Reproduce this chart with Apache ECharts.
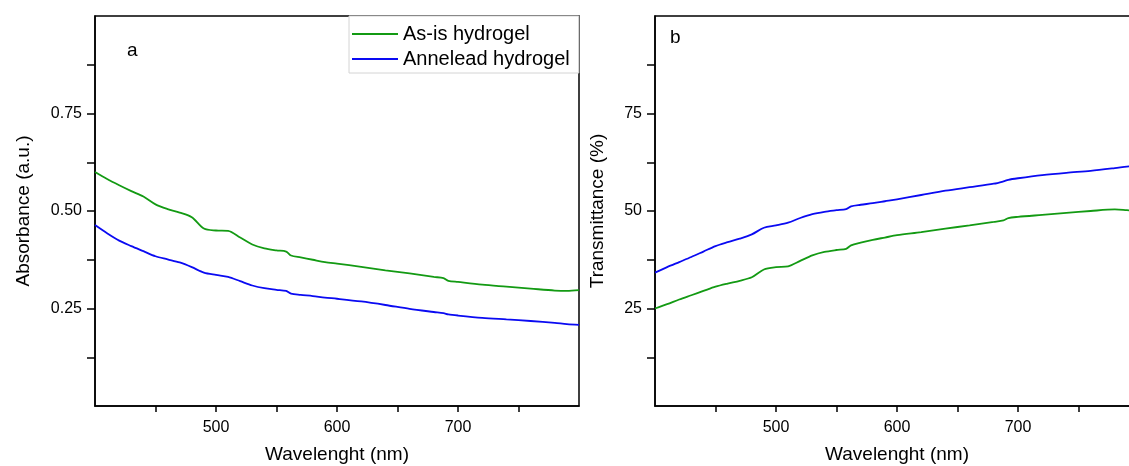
<!DOCTYPE html>
<html>
<head>
<meta charset="utf-8">
<script src="https://cdn.jsdelivr.net/npm/echarts@6/dist/echarts.min.js"></script>
<style>
  html, body { margin: 0; padding: 0; background: #fff; }
  #chart { width: 1129px; height: 466px; }
</style>
</head>
<body>
<div id="chart"></div>
<script>
    // wavelength (nm)
    var wavelength = [400,410,420,430,440,450,460,470,480,490,500,510,520,530,540,550,558,562,570,580,590,600,620,640,660,680,688,692,700,720,740,760,780,790,800];

    // (a) absorbance
    var absAsIs = [0.600,0.582,0.566,0.551,0.537,0.517,0.505,0.496,0.484,0.455,0.450,0.449,0.432,0.414,0.404,0.399,0.396,0.386,0.381,0.375,0.369,0.365,0.357,0.348,0.340,0.331,0.328,0.321,0.318,0.311,0.306,0.301,0.296,0.295,0.297];
    var absAnnealed = [0.464,0.443,0.424,0.410,0.397,0.384,0.376,0.368,0.356,0.342,0.336,0.331,0.320,0.309,0.302,0.298,0.295,0.288,0.285,0.282,0.278,0.275,0.268,0.259,0.249,0.241,0.238,0.235,0.232,0.226,0.222,0.218,0.213,0.210,0.208];

    // (b) transmittance
    var transAsIs = [25.0,26.1,27.3,28.4,29.5,30.6,31.4,32.1,33.0,35.0,35.6,35.8,37.2,38.6,39.5,40.0,40.3,41.2,41.9,42.6,43.2,43.8,44.6,45.5,46.3,47.2,47.6,48.2,48.5,49.0,49.5,50.0,50.4,50.2,50.0];
    var transAnnealed = [34.2,35.6,36.9,38.2,39.6,41.0,42.0,42.9,44.0,45.7,46.3,47.0,48.2,49.2,49.8,50.2,50.5,51.2,51.6,52.0,52.5,53.0,54.1,55.2,56.1,57.0,57.6,58.0,58.4,59.2,59.8,60.3,61.0,61.4,61.7];

    var xTicks = [450,500,550,600,650,700,750];
    var xLabels = [500,600,700];
    var absTicks = [0.125,0.25,0.375,0.5,0.625,0.75,0.875];
    var absLabels = [0.25,0.5,0.75];
    var transTicks = [12.5,25,37.5,50,62.5,75,87.5];
    var transLabels = [25,50,75];

    var FONT = 'Liberation Sans, Arial, sans-serif';
    var GREEN = '#139a13';
    var BLUE = '#0a0af2';

    function pairs(xs, ys) {
        var out = [];
        for (var i = 0; i < xs.length; i++) out.push([xs[i], ys[i]]);
        return out;
    }

    function xAxisFor(idx) {
        return {
            gridIndex: idx, type: 'value', min: 400, max: 800,
            name: 'Wavelenght (nm)', nameLocation: 'middle', nameGap: 39,
            nameTextStyle: { fontSize: 19, color: '#000', fontFamily: FONT },
            axisLine: { show: true, onZero: false, lineStyle: { color: '#000', width: 1.5 } },
            axisTick: { show: true, inside: false, length: 6, customValues: xTicks, lineStyle: { color: '#000', width: 1.5 } },
            axisLabel: { customValues: xLabels, margin: 14, fontSize: 16, color: '#000', fontFamily: FONT },
            splitLine: { show: false }
        };
    }

    function yAxisFor(idx, max, ticks, labels, name, gap, fmt) {
        return {
            gridIndex: idx, type: 'value', min: 0, max: max,
            name: name, nameLocation: 'middle', nameGap: gap,
            nameTextStyle: { fontSize: 19, color: '#000', fontFamily: FONT },
            axisLine: { show: true, onZero: false, lineStyle: { color: '#000', width: 1.5 } },
            axisTick: { show: true, inside: false, length: 8, customValues: ticks, lineStyle: { color: '#000', width: 1.5 } },
            axisLabel: { customValues: labels, margin: 13, fontSize: 16, color: '#000', fontFamily: FONT, formatter: fmt },
            splitLine: { show: false }
        };
    }

    function line(name, xi, data, color) {
        return {
            name: name, type: 'line', xAxisIndex: xi, yAxisIndex: xi,
            data: data, symbol: 'none', smooth: 0.3,
            lineStyle: { color: color, width: 1.8 }, itemStyle: { color: color },
            z: 3
        };
    }

    var chart = echarts.init(document.getElementById('chart'));

    var option = {
        backgroundColor: '#fff',
        animation: false,
        textStyle: { fontFamily: FONT },
        grid: [
            { left: 95, top: 16, width: 484, height: 390, show: true, borderColor: '#000', borderWidth: 1.5, backgroundColor: 'transparent', outerBoundsMode: 'none' },
            { left: 655, top: 16, width: 484, height: 390, show: true, borderColor: '#000', borderWidth: 1.5, backgroundColor: 'transparent', outerBoundsMode: 'none' }
        ],
        xAxis: [xAxisFor(0), xAxisFor(1)],
        yAxis: [
            yAxisFor(0, 1, absTicks, absLabels, 'Absorbance (a.u.)', 62, function (v) { return v.toFixed(2); }),
            yAxisFor(1, 100, transTicks, transLabels, 'Transmittance (%)', 48, function (v) { return String(v); })
        ],
        legend: {
            orient: 'vertical', left: 349, top: 16,
            padding: [8, 9, 4, 3],
            icon: 'rect',
            itemWidth: 46, itemHeight: 2, itemGap: 5,
            backgroundColor: '#fff', borderColor: '#d4d4d4', borderWidth: 1,
            textStyle: { fontSize: 20, color: '#000', fontFamily: FONT },
            data: ['As-is hydrogel', 'Annelead hydrogel']
        },
        graphic: [
            { type: 'text', left: 127, top: 41, style: { text: 'a', fontSize: 19, fill: '#000', fontFamily: FONT } },
            { type: 'text', left: 670, top: 28, style: { text: 'b', fontSize: 19, fill: '#000', fontFamily: FONT } }
        ],
        series: [
            line('As-is hydrogel', 0, pairs(wavelength, absAsIs), GREEN),
            line('Annelead hydrogel', 0, pairs(wavelength, absAnnealed), BLUE),
            line('As-is hydrogel', 1, pairs(wavelength, transAsIs), GREEN),
            line('Annelead hydrogel', 1, pairs(wavelength, transAnnealed), BLUE)
        ]
    };

    chart.setOption(option);
</script>
</body>
</html>
